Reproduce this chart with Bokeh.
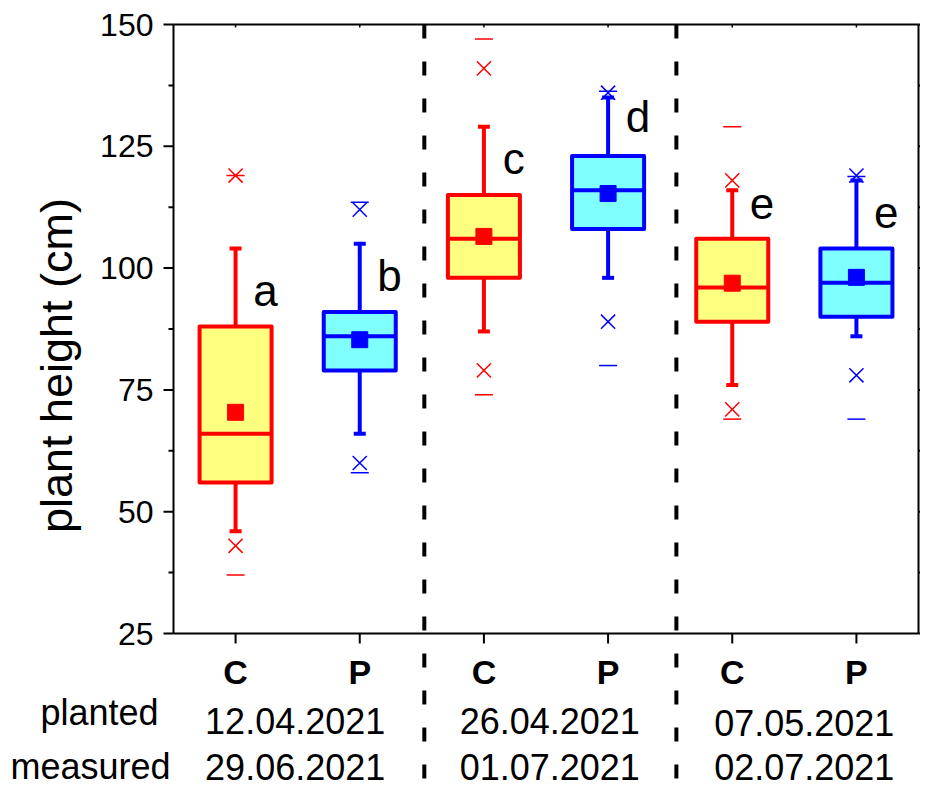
import numpy as np
from bokeh.plotting import figure
from bokeh.models import Range1d
from bokeh.core.properties import value
from bokeh.embed import file_html
from bokeh.resources import INLINE

# ---------------- data ----------------
groups = ["C", "P", "C", "P", "C", "P"]
xpos = [1, 2, 3, 4, 5, 6]
q1 = [56, 79, 98, 108, 89, 90]
q3 = [88, 91, 115, 123, 106, 104]
median = [66, 86, 106, 116, 96, 97]
mean = [70.4, 85.3, 106.5, 115.3, 96.9, 98.1]
whisk_lo = [46, 66, 87, 98, 76, 86]
whisk_hi = [104, 105, 129, 135, 116, 118]
pct1 = [43, 60, 79, 89, 71, 78]
pct99 = [119, 112, 141, 136, 118, 119]
vmin = [37, 58, 74, 80, 69, 69]
vmax = [119, 113.5, 147, 136.3, 129, 118.8]
sig_letters = ["a", "b", "c", "d", "e", "e"]
sig_y = [92.3, 95.4, 119.4, 127.9, 110.2, 108.2]   # baselines of the letters
planted = ["12.04.2021", "26.04.2021", "07.05.2021"]
measured = ["29.06.2021", "01.07.2021", "02.07.2021"]
yticks = [25, 50, 75, 100, 125, 150]
yminor = [37.5, 62.5, 87.5, 112.5, 137.5]
separators = [2.52, 4.55]
group_centers = [1.48, 3.53, 5.58]

# ---------------- layout helpers (canvas pixels) ----------------
W, H = 920, 787
AX_L, AX_R = 173, 918      # pixel x of x=0.5 and x=6.5
AX_T, AX_B = 24, 633       # pixel y of y=150 and y=25
PX_X = (AX_R - AX_L) / 6.0
PX_Y = (AX_B - AX_T) / 125.0
X0 = 0.5 - AX_L / PX_X
X1 = X0 + W / PX_X
Y1 = 150 + AX_T / PX_Y
Y0 = Y1 - H / PX_Y
MID = 0.35  # distance (em) from baseline to the "middle" anchor


def fx(px):
    return X0 + px / PX_X


def fy(py):
    return Y1 - py / PX_Y


def base(py, size):
    """data y of a middle-anchored text whose baseline is at pixel py"""
    return fy(py - MID * size)


FONT = value("Liberation Sans")
line_cols = ["#FF0000" if g == "C" else "#0000FF" for g in groups]
fill_cols = ["#FFFF80" if g == "C" else "#80FFFF" for g in groups]
BOX_W = 0.58

p = figure(width=W, height=H, x_range=Range1d(X0, X1), y_range=Range1d(Y0, Y1),
           output_backend="svg", toolbar_location=None, x_axis_location=None,
           y_axis_location=None, title=None, min_border=0)
p.outline_line_color = None
p.grid.grid_line_color = None
p.background_fill_color = "white"

# ---------------- frame and axes ----------------
p.segment(x0=[0.5, 0.5, 6.5, 0.5], y0=[25, 150, 25, 25],
          x1=[0.5, 6.5, 6.5, 6.5], y1=[150, 150, 150, 25],
          line_color="black", line_width=2)
p.segment(x0=[0.5] * len(yticks), x1=[0.5 - 10 / PX_X] * len(yticks),
          y0=yticks, y1=yticks, line_color="black", line_width=2)
p.segment(x0=[0.5] * len(yminor), x1=[0.5 - 5 / PX_X] * len(yminor),
          y0=yminor, y1=yminor, line_color="black", line_width=2)
p.text(x=[fx(153)] * len(yticks), y=yticks, text=[str(t) for t in yticks],
       text_font=FONT, text_font_size="32px", text_align="right",
       text_baseline="middle", text_color="black")
rt = yticks + yminor
p.segment(x0=[6.5] * len(rt), x1=[6.5 + 8 / PX_X] * len(rt), y0=rt, y1=rt,
          line_color="black", line_width=2)
p.segment(x0=xpos, x1=xpos, y0=[25] * 6, y1=[25 - 10 / PX_Y] * 6,
          line_color="black", line_width=2)
p.segment(x0=xpos, x1=xpos, y0=[150] * 6, y1=[150 - 3 / PX_Y] * 6,
          line_color="black", line_width=1.5)

# ---------------- separators ----------------
for s in separators:
    p.segment(x0=[s], x1=[s], y0=[150], y1=[Y0], line_color="black",
              line_width=4, line_dash="14 23")

# ---------------- boxes ----------------
xs = np.array(xpos, dtype=float)
p.segment(x0=xs, x1=xs, y0=whisk_lo, y1=q1, line_color=line_cols, line_width=4)
p.segment(x0=xs, x1=xs, y0=q3, y1=whisk_hi, line_color=line_cols, line_width=4)
p.scatter(x=xs, y=whisk_lo, marker="dash", size=12, line_color=line_cols, line_width=4)
p.scatter(x=xs, y=whisk_hi, marker="dash", size=12, line_color=line_cols, line_width=4)
p.vbar(x=xs, bottom=q1, top=q3, width=BOX_W, fill_color=fill_cols,
       line_color=line_cols, line_width=4, line_join="round")
p.segment(x0=xs - BOX_W / 2, x1=xs + BOX_W / 2, y0=median, y1=median,
          line_color=line_cols, line_width=4)
p.scatter(x=xs, y=mean, marker="square", size=16, fill_color=line_cols,
          line_color=line_cols, line_width=1)
p.scatter(x=xs, y=pct1, marker="x", size=20, line_color=line_cols, line_width=1.5)
p.scatter(x=xs, y=pct99, marker="x", size=20, line_color=line_cols, line_width=1.5)
p.scatter(x=xs, y=vmin, marker="dash", size=18, line_color=line_cols, line_width=1.5)
p.scatter(x=xs, y=vmax, marker="dash", size=18, line_color=line_cols, line_width=1.5)

# significance letters
p.text(x=xs + 0.24, y=np.array(sig_y) + MID * 44 / PX_Y, text=sig_letters,
       text_font=FONT, text_font_size="44px", text_align="center",
       text_baseline="middle", text_color="black")

# category labels
p.text(x=xs, y=[base(683, 34)] * 6, text=groups, text_font=FONT,
       text_font_size="34px", text_font_style="bold", text_align="center",
       text_baseline="middle", text_color="black")

# date rows
p.text(x=group_centers, y=[base(733, 36), base(733, 36), base(735, 36)],
       text=planted, text_font=FONT, text_font_size="36px", text_align="center",
       text_baseline="middle", text_color="black")
p.text(x=group_centers, y=[base(779, 36)] * 3,
       text=measured, text_font=FONT, text_font_size="36px", text_align="center",
       text_baseline="middle", text_color="black")

# row names
p.text(x=[fx(99), fx(90)], y=[base(725, 36), base(779, 36)],
       text=["planted", "measured"], text_font=FONT, text_font_size="36px",
       text_align="center", text_baseline="middle", text_color="black")

# y title
p.text(x=[fx(56)], y=[fy(365)], text=["plant height (cm)"], text_font=FONT,
       text_font_size="45px", text_align="center", angle=np.pi / 2,
       text_baseline="middle", text_color="black")

open("out.html", "w").write(file_html(p, INLINE))
